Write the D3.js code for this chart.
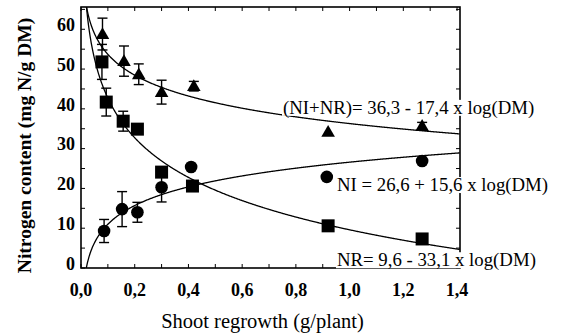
<!DOCTYPE html>
<html>
<head>
<meta charset="utf-8">
<script src="https://cdn.jsdelivr.net/npm/d3@7"></script>
<style>
  body { margin: 0; background: #fff; }
  svg text { font-family: 'Liberation Serif', 'Times New Roman', serif; }
</style>
</head>
<body>
<div id="chart"></div>
<script>
// measured points (g/plant, mg N/g DM)
const triX = [0.08, 0.16, 0.215, 0.30, 0.42, 0.92, 1.27];
const triY = [58.8, 52.0, 48.7, 44.2, 45.7, 34.2, 35.7];
const triErr = [4.0, 3.8, 2.6, 3.0, 1.2, 0, 0.9];

const sqX = [0.078, 0.094, 0.157, 0.21, 0.30, 0.415, 0.92, 1.27];
const sqY = [51.8, 41.7, 36.9, 34.9, 24.1, 20.6, 10.6, 7.3];
const sqErr = [4.4, 3.5, 2.5, 0, 0, 0, 0, 0];

const ciX = [0.086, 0.153, 0.21, 0.30, 0.41, 0.915, 1.27];
const ciY = [9.3, 14.8, 14.0, 20.3, 25.4, 22.9, 26.9];
const ciErr = [2.9, 4.4, 2.5, 3.7, 0, 0, 0];

// fitted curves: a + b * log10(DM)
const fits = [
  { name: 'sum', a: 36.3, b: -17.4 },
  { name: 'NI', a: 26.6, b: 15.6 },
  { name: 'NR', a: 9.6, b: -33.1 }
];
const labels = [
  { text: '(NI+NR)= 36,3 - 17,4 x log(DM)', x: 0.752, y: 40.4 },
  { text: 'NI = 26,6 + 15,6 x log(DM)', x: 0.953, y: 21.0 },
  { text: 'NR= 9,6 - 33,1 x log(DM)', x: 0.953, y: 2.1 }
];

const xTicks = [0, 0.2, 0.4, 0.6, 0.8, 1.0, 1.2, 1.4];
const yTicks = [0, 10, 20, 30, 40, 50, 60];

const width = 562, height = 336;
const margin = { top: 7, right: 102, bottom: 68, left: 81 };
const serif = "'Liberation Serif', 'Times New Roman', serif";

const svg = d3.select('#chart').append('svg')
  .attr('width', width)
  .attr('height', height)
  .style('display', 'block');

const x = d3.scaleLinear().domain([0, 1.411]).range([margin.left, width - margin.right]);
const y = d3.scaleLinear().domain([0, 65.6]).range([height - margin.bottom, margin.top]);

const fmt = d => d3.format('.1f')(d).replace('.', ',');

// minor ticks inside the frame on all four sides
const xMinor = d3.range(0, 1.41, 0.1);
const yMinor = d3.range(0, 65.1, 5);
const tickG = svg.append('g').attr('stroke', '#000').attr('stroke-width', 1);
tickG.selectAll('.bt').data(xMinor).join('line')
  .attr('x1', d => x(d)).attr('x2', d => x(d))
  .attr('y1', y(0)).attr('y2', y(0) - 4);
tickG.selectAll('.tt').data(xMinor).join('line')
  .attr('x1', d => x(d)).attr('x2', d => x(d))
  .attr('y1', y.range()[1]).attr('y2', y.range()[1] + 4);
tickG.selectAll('.lt').data(yMinor).join('line')
  .attr('x1', x(0)).attr('x2', x(0) + 4)
  .attr('y1', d => y(d)).attr('y2', d => y(d));
tickG.selectAll('.rt').data(yMinor).join('line')
  .attr('x1', x.range()[1]).attr('x2', x.range()[1] - 4)
  .attr('y1', d => y(d)).attr('y2', d => y(d));

// frame
svg.append('rect')
  .attr('x', x.range()[0]).attr('y', y.range()[1])
  .attr('width', x.range()[1] - x.range()[0])
  .attr('height', y.range()[0] - y.range()[1])
  .attr('fill', 'none').attr('stroke', '#000').attr('stroke-width', 1.6);

// tick labels
svg.append('g')
  .selectAll('text').data(xTicks).join('text')
  .style('font-family', serif).style('font-size', '18px').style('font-weight', 'bold')
  .attr('x', d => x(d)).attr('y', y(0) + 28)
  .attr('text-anchor', 'middle')
  .text(fmt);

svg.append('g')
  .selectAll('text').data(yTicks).join('text')
  .style('font-family', serif).style('font-size', '18px').style('font-weight', 'bold')
  .attr('x', x(0) - 6).attr('y', d => y(d))
  .attr('dy', '0.1em')
  .attr('text-anchor', 'end')
  .text(d => d);

// axis titles
svg.append('text')
  .style('font-family', serif).style('font-size', '20.5px')
  .attr('x', (x.range()[0] + x.range()[1]) / 2 - 8)
  .attr('y', height - 8)
  .attr('text-anchor', 'middle')
  .text('Shoot regrowth (g/plant)');

svg.append('text')
  .style('font-family', serif).style('font-size', '19.5px').style('font-weight', 'bold')
  .attr('transform', `translate(31, ${(y.range()[0] + y.range()[1]) / 2 + 8}) rotate(-90)`)
  .attr('text-anchor', 'middle')
  .text('Nitrogen content (mg N/g DM)');

// curves
const plot = svg.append('g');
svg.append('clipPath').attr('id', 'clip').append('rect')
  .attr('x', x.range()[0]).attr('y', y.range()[1])
  .attr('width', x.range()[1] - x.range()[0])
  .attr('height', y.range()[0] - y.range()[1]);

const xs = d3.range(0.012, 1.411, 0.002);
const line = d3.line().x(d => x(d[0])).y(d => y(d[1]));
plot.append('g').attr('clip-path', 'url(#clip)')
  .selectAll('path').data(fits).join('path')
  .attr('d', f => line(xs.map(v => [v, f.a + f.b * Math.log10(v)]).filter(p => p[1] > -5 && p[1] < 80)))
  .attr('fill', 'none').attr('stroke', '#000').attr('stroke-width', 1.3);

// error bars
function errorBars(xv, yv, ev) {
  const g = plot.append('g').attr('stroke', '#000').attr('stroke-width', 1.4);
  const rows = xv.map((d, i) => [d, yv[i], ev[i]]).filter(r => r[2] > 0);
  g.selectAll('.v').data(rows).join('line')
    .attr('x1', r => x(r[0])).attr('x2', r => x(r[0]))
    .attr('y1', r => y(r[1] - r[2])).attr('y2', r => y(r[1] + r[2]));
  [-1, 1].forEach(s => {
    g.selectAll('.c' + s).data(rows).join('line')
      .attr('x1', r => x(r[0]) - 5).attr('x2', r => x(r[0]) + 5)
      .attr('y1', r => y(r[1] + s * r[2])).attr('y2', r => y(r[1] + s * r[2]));
  });
}
errorBars(ciX, ciY, ciErr);
errorBars(triX, triY, triErr);
errorBars(sqX, sqY, sqErr);

// markers
plot.append('g').selectAll('circle').data(ciX).join('circle')
  .attr('cx', d => x(d)).attr('cy', (d, i) => y(ciY[i]))
  .attr('r', 6.3).attr('fill', '#000');

const tri = d3.symbol().type(d3.symbolTriangle).size(80);
plot.append('g').selectAll('path').data(triX).join('path')
  .attr('d', tri)
  .attr('transform', (d, i) => `translate(${x(d)},${y(triY[i]) + 1})`)
  .attr('fill', '#000');

plot.append('g').selectAll('rect').data(sqX).join('rect')
  .attr('x', d => x(d) - 6.5).attr('y', (d, i) => y(sqY[i]) - 6.5)
  .attr('width', 13).attr('height', 13)
  .attr('fill', '#000');

// equation labels on white background (they cut the right frame)
const lab = svg.append('g');
labels.forEach(l => {
  const t = lab.append('text')
    .style('font-family', serif).style('font-size', '18.8px')
    .attr('x', x(l.x)).attr('y', y(l.y))
    .attr('dy', '0.35em')
    .text(l.text);
  const b = t.node().getBBox();
  lab.insert('rect', 'text')
    .attr('x', b.x - 1).attr('y', b.y + 3)
    .attr('width', b.width + 2).attr('height', b.height - 6)
    .attr('fill', '#fff');
});
</script>
</body>
</html>
